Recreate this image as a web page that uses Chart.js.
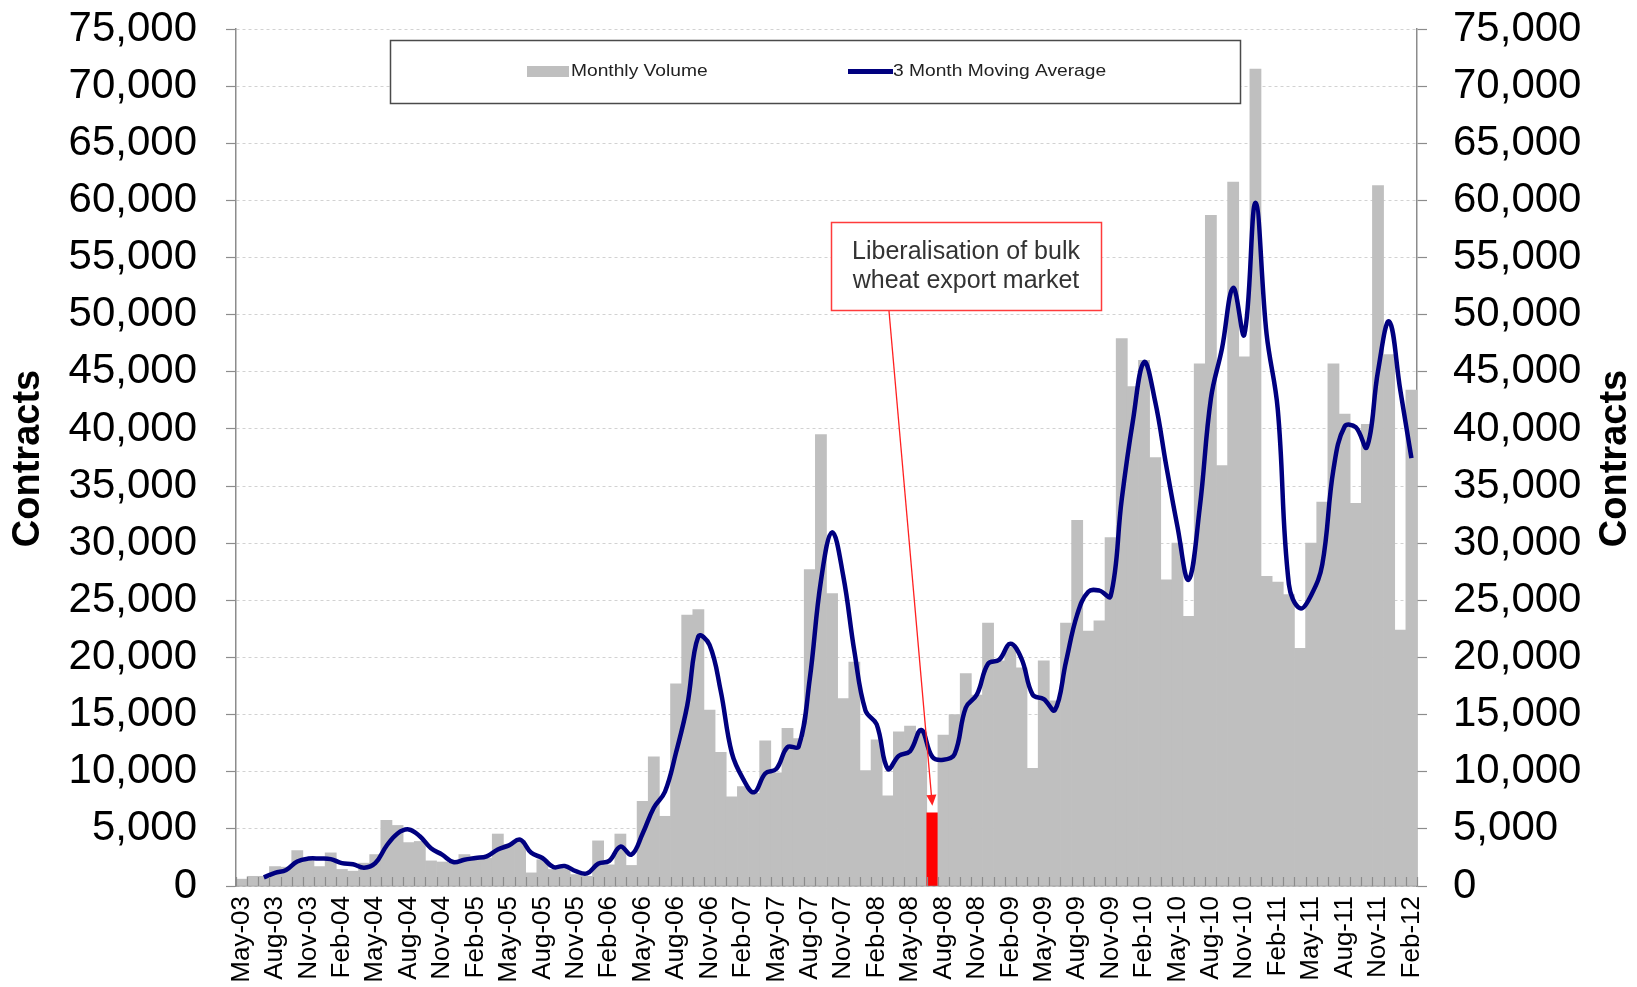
<!DOCTYPE html>
<html>
<head>
<meta charset="utf-8">
<title>Monthly Volume</title>
<script src="https://cdn.jsdelivr.net/npm/chart.js@4.4.1/dist/chart.umd.min.js"></script>
<style>
  html, body { margin: 0; padding: 0; background: #fff; }
  #wrap { width: 1637px; height: 987px; }
</style>
</head>
<body>
<div id="wrap"><canvas id="volChart" width="1637" height="987"></canvas></div>
<script>
(function () {
  "use strict";

  var MONTHS = [
    "May-03", "Jun-03", "Jul-03", "Aug-03", "Sep-03", "Oct-03", "Nov-03", "Dec-03",
    "Jan-04", "Feb-04", "Mar-04", "Apr-04", "May-04", "Jun-04", "Jul-04", "Aug-04", "Sep-04", "Oct-04", "Nov-04", "Dec-04",
    "Jan-05", "Feb-05", "Mar-05", "Apr-05", "May-05", "Jun-05", "Jul-05", "Aug-05", "Sep-05", "Oct-05", "Nov-05", "Dec-05",
    "Jan-06", "Feb-06", "Mar-06", "Apr-06", "May-06", "Jun-06", "Jul-06", "Aug-06", "Sep-06", "Oct-06", "Nov-06", "Dec-06",
    "Jan-07", "Feb-07", "Mar-07", "Apr-07", "May-07", "Jun-07", "Jul-07", "Aug-07", "Sep-07", "Oct-07", "Nov-07", "Dec-07",
    "Jan-08", "Feb-08", "Mar-08", "Apr-08", "May-08", "Jun-08", "Jul-08", "Aug-08", "Sep-08", "Oct-08", "Nov-08", "Dec-08",
    "Jan-09", "Feb-09", "Mar-09", "Apr-09", "May-09", "Jun-09", "Jul-09", "Aug-09", "Sep-09", "Oct-09", "Nov-09", "Dec-09",
    "Jan-10", "Feb-10", "Mar-10", "Apr-10", "May-10", "Jun-10", "Jul-10", "Aug-10", "Sep-10", "Oct-10", "Nov-10", "Dec-10",
    "Jan-11", "Feb-11", "Mar-11", "Apr-11", "May-11", "Jun-11", "Jul-11", "Aug-11", "Sep-11", "Oct-11", "Nov-11", "Dec-11",
    "Jan-12", "Feb-12"
  ];

  // monthly volume (contracts)
  var VOLUME = [
    600, 850, 850, 1700, 1650, 3100, 2450, 1700,
    2900, 1450, 1300, 2000, 2750, 5750, 5300, 3800, 3900, 2200, 2100, 2000,
    2750, 2600, 2450, 4550, 3650, 3950, 1150, 2300, 1450, 1500, 1000, 850,
    3950, 1850, 4550, 1800, 7400, 11300, 6100, 17700, 23700, 24200, 15400, 11700,
    7800, 8700, 8100, 12700, 9900, 13800, 12900, 27700, 39500, 25600, 16400, 19600,
    10100, 12800, 7900, 13500, 14000, 13500, 6400, 13200, 15000, 18600, 16700, 23000,
    19700, 20900, 19100, 10300, 19700, 16200, 23000, 32000, 22300, 23200, 30500, 47900,
    43700, 46000, 37500, 26800, 30000, 23600, 45700, 58700, 36800, 61600, 46300, 71500,
    27100, 26600, 25500, 20800, 30000, 33600, 45700, 41300, 33500, 40400, 61300, 46500,
    22400, 43400
  ];

  // 3 month moving average
  var MOVING_AVG = [
    null, null, 750, 1150, 1400, 2150, 2400, 2400,
    2350, 2000, 1900, 1600, 2000, 3500, 4600, 4950, 4350, 3300, 2750, 2100,
    2300, 2450, 2600, 3200, 3550, 4050, 2900, 2450, 1650, 1750, 1300, 1100,
    1950, 2200, 3450, 2750, 4600, 6850, 8250, 11700, 15800, 21850, 21100, 17100,
    11650, 9400, 8200, 9850, 10250, 12150, 12200, 18150, 26700, 30950, 27150, 20550,
    15350, 14150, 10250, 11400, 11800, 13650, 11300, 11050, 11550, 15600, 16750, 19450,
    19800, 21200, 19900, 16750, 16350, 15400, 19650, 23750, 25750, 25850, 25350, 33850,
    40700, 45850, 42400, 36750, 31450, 26800, 33100, 42650, 47050, 52350, 48250, 59800,
    48300, 41750, 26400, 24300, 25450, 28150, 36450, 40200, 40150, 38400, 45050, 49400,
    43400, 37450
  ];

  var HIGHLIGHT = "Jul-08";
  var Y_MAX = 75000, Y_STEP = 5000;
  var NOTE = ["Liberalisation of bulk", "wheat export market"];

  var FONT = "'Liberation Sans', Arial, sans-serif";
  var GREY_BAR = "#bfbfbf", RED = "#ff0000", NAVY = "#00007f", AXIS = "#8c8c8c";

  var barColors = MONTHS.map(function (m) { return m === HIGHLIGHT ? RED : GREY_BAR; });

  function fmt(v) { return Number(v).toLocaleString("en-US"); }

  var overlay = {
    id: "overlay",
    afterDatasetsDraw: function (chart) {
      var ctx = chart.ctx, xs = chart.scales.x, ys = chart.scales.y;
      var base = ys.getPixelForValue(0);
      ctx.save();

      // little category ticks standing on the x axis
      ctx.strokeStyle = AXIS;
      ctx.lineWidth = 1.2;
      ctx.beginPath();
      for (var i = 0; i <= MONTHS.length; i++) {
        var tx = Math.round(xs.getPixelForValue(i - 0.5)) + 0.5;
        ctx.moveTo(tx, base);
        ctx.lineTo(tx, base - 9);
      }
      ctx.stroke();

      // legend box
      ctx.fillStyle = "#fff";
      ctx.fillRect(390, 40, 850, 63);
      ctx.strokeStyle = "#4a4a4a";
      ctx.lineWidth = 1.5;
      ctx.strokeRect(390.5, 40.5, 850, 63);
      ctx.fillStyle = GREY_BAR;
      ctx.fillRect(527, 66, 42, 11);
      ctx.strokeStyle = NAVY;
      ctx.lineWidth = 5;
      ctx.beginPath();
      ctx.moveTo(848, 71.5);
      ctx.lineTo(893, 71.5);
      ctx.stroke();
      ctx.fillStyle = "#222";
      ctx.font = "16px " + FONT;
      ctx.textBaseline = "middle";
      ctx.textAlign = "left";
      [["Monthly Volume", 571], ["3 Month Moving Average", 893]].forEach(function (it) {
        ctx.save();
        ctx.translate(it[1], 71.5);
        ctx.scale(1.2, 1);
        ctx.fillText(it[0], 0, 0);
        ctx.restore();
      });

      // annotation box
      var bx = 831, by = 222, bw = 270, bh = 88;
      ctx.fillStyle = "#fff";
      ctx.fillRect(bx, by, bw, bh);
      ctx.strokeStyle = "#ff3b3b";
      ctx.lineWidth = 1.5;
      ctx.strokeRect(bx + 0.5, by + 0.5, bw, bh);
      ctx.fillStyle = "#333";
      ctx.font = "25px " + FONT;
      ctx.textAlign = "center";
      ctx.fillText(NOTE[0], bx + bw / 2, 252);
      ctx.fillText(NOTE[1], bx + bw / 2, 281);

      // arrow down to the highlighted month
      var hi = MONTHS.indexOf(HIGHLIGHT);
      var x0 = 889, y0 = by + bh + 1;
      var x1 = xs.getPixelForValue(hi), y1 = ys.getPixelForValue(VOLUME[hi]) - 7;
      var ang = Math.atan2(y1 - y0, x1 - x0);
      ctx.strokeStyle = "#ff2020";
      ctx.fillStyle = "#ff2020";
      ctx.lineWidth = 1.3;
      ctx.beginPath();
      ctx.moveTo(x0, y0);
      ctx.lineTo(x1 - 9 * Math.cos(ang), y1 - 9 * Math.sin(ang));
      ctx.stroke();
      ctx.beginPath();
      ctx.moveTo(x1, y1);
      ctx.lineTo(x1 - 11 * Math.cos(ang) + 5 * Math.sin(ang), y1 - 11 * Math.sin(ang) - 5 * Math.cos(ang));
      ctx.lineTo(x1 - 11 * Math.cos(ang) - 5 * Math.sin(ang), y1 - 11 * Math.sin(ang) + 5 * Math.cos(ang));
      ctx.closePath();
      ctx.fill();

      // axis titles
      var midY = (chart.chartArea.top + chart.chartArea.bottom) / 2 + 1;
      ctx.fillStyle = "#000";
      ctx.font = "bold 38px " + FONT;
      ctx.textAlign = "center";
      [29, 1616].forEach(function (cx) {
        ctx.save();
        ctx.translate(cx, midY);
        ctx.rotate(-Math.PI / 2);
        ctx.fillText("Contracts", 0, 0);
        ctx.restore();
      });

      ctx.restore();
    }
  };

  var yTicks = {
    stepSize: Y_STEP,
    color: "#000",
    font: { family: FONT, size: 42 },
    callback: function (v) { return fmt(v); }
  };

  function fitY(width) {
    return function (s) {
      s.width = width;
      s.paddingTop = 0;
      s.paddingBottom = 0;
    };
  }

  new Chart(document.getElementById("volChart"), {
    type: "bar",
    data: {
      labels: MONTHS,
      datasets: [
        {
          type: "line", label: "3 Month Moving Average", data: MOVING_AVG, order: 0,
          borderColor: NAVY, borderWidth: 4.5, pointRadius: 0, tension: 0.4, fill: false
        },
        {
          type: "bar", label: "Monthly Volume", data: VOLUME, order: 1,
          backgroundColor: barColors, borderWidth: 0, barPercentage: 1, categoryPercentage: 1
        }
      ]
    },
    options: {
      responsive: false,
      devicePixelRatio: 1,
      animation: false,
      layout: { padding: { top: 29, left: 0, right: 0, bottom: 0 } },
      plugins: { legend: { display: false }, tooltip: { enabled: false } },
      scales: {
        x: {
          offset: true,
          grid: { display: true, drawOnChartArea: false, drawTicks: false },
          border: { display: true, color: AXIS, width: 1.5 },
          ticks: {
            autoSkip: false, minRotation: 90, maxRotation: 90, padding: 10,
            color: "#000", font: { family: FONT, size: 26 },
            callback: function (v, i) { return i % 3 === 0 ? MONTHS[i] : ""; }
          },
          afterFit: function (s) { s.height = 101; s.paddingLeft = 0; s.paddingRight = 0; }
        },
        y: {
          position: "left", min: 0, max: Y_MAX,
          ticks: Object.assign({ padding: 29 }, yTicks),
          grid: { color: "#d2d2d2", lineWidth: 1, tickColor: AXIS, tickLength: 10, tickWidth: 1.2 },
          border: { display: true, color: AXIS, width: 1.5, dash: [3, 3] },
          afterFit: fitY(236)
        },
        y2: {
          position: "right", min: 0, max: Y_MAX,
          ticks: Object.assign({ padding: 26 }, yTicks),
          grid: { drawOnChartArea: false, tickColor: AXIS, tickLength: 10, tickWidth: 1.2 },
          border: { display: true, color: AXIS, width: 1.5 },
          afterFit: fitY(220)
        }
      }
    },
    plugins: [overlay]
  });
})();
</script>
</body>
</html>
